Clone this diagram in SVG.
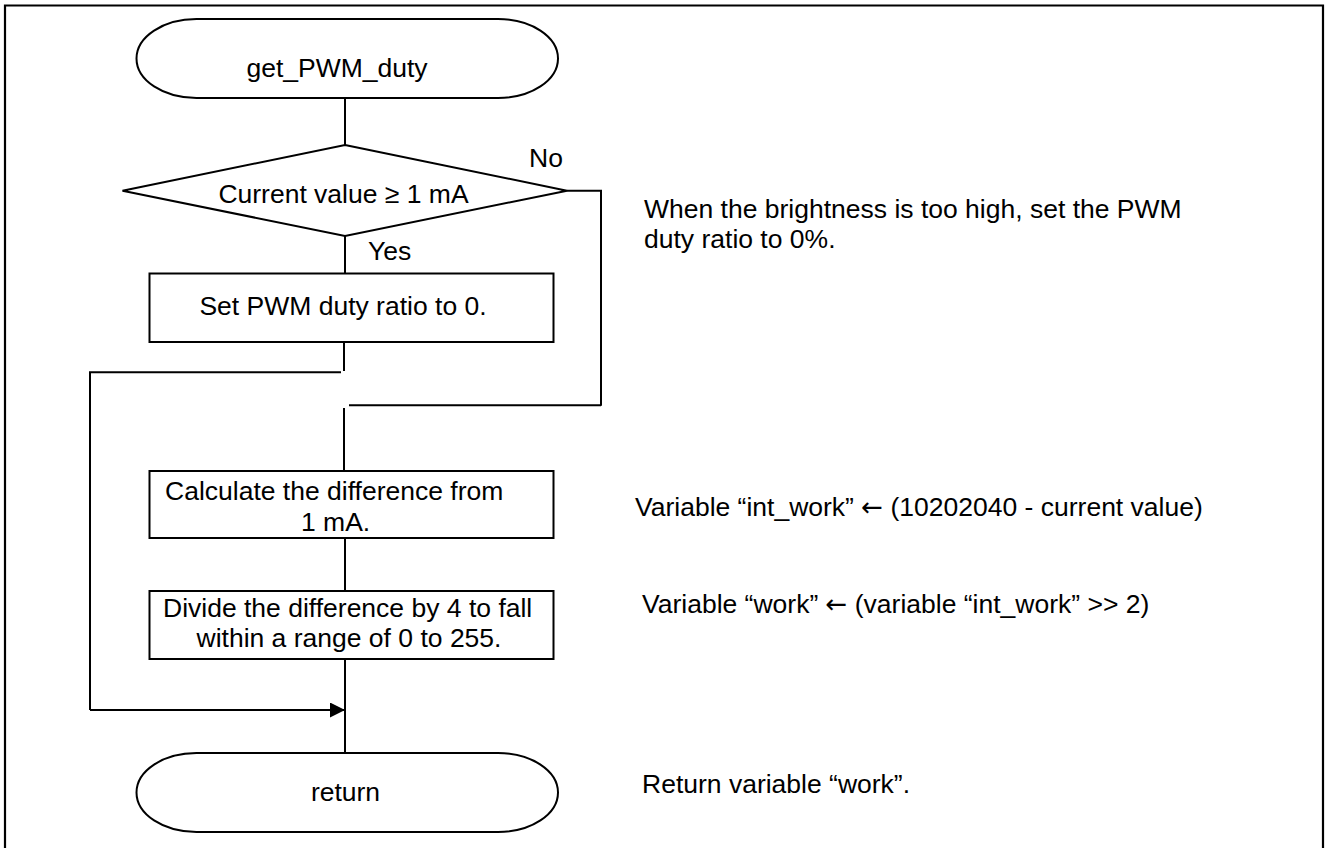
<svg xmlns="http://www.w3.org/2000/svg" width="1326" height="848" viewBox="0 0 1326 848">
<defs>
<style>
.shape{fill:#fff;stroke:#000;stroke-width:2}
.line{fill:none;stroke:#000;stroke-width:2}
text{font-family:"Liberation Sans",Arial,sans-serif;font-size:26.5px;fill:#000}
.c{text-anchor:middle}
.ar{font-family:"DejaVu Sans","Liberation Sans",sans-serif;font-size:26px}
</style>
<marker id="arr" markerUnits="userSpaceOnUse" markerWidth="15" markerHeight="15" viewBox="0 0 15 15" refX="15" refY="7.5" orient="auto">
<path d="M0,0 L15,7.5 L0,15 z" fill="#000"/>
</marker>
</defs>
<rect width="1326" height="848" fill="#fff"/>
<path d="M5,848 V5.5 H1323 V848" fill="none" stroke="#000" stroke-width="2.2"/>

<g id="connectors">
<path class="line" d="M345,98 V145"/>
<path class="line" d="M345,236 V273"/>
<path class="line" d="M567,190.7 H601 V405.7"/>
<path class="line" d="M601,405.3 H349"/>
<path class="line" d="M344,408 V471"/>
<path class="line" d="M344,342 V371"/>
<path class="line" d="M341,372.3 H90 V710"/>
<path class="line" d="M90,710 H345" marker-end="url(#arr)"/>
<path class="line" d="M345,538 V591"/>
<path class="line" d="M345,659 V753"/>
</g>

<g id="start">
<rect class="shape" x="136.5" y="19" width="421.5" height="79" rx="60" ry="39.5"/>
<text class="c" x="337" y="77">get_PWM_duty</text>
</g>

<g id="decision">
<polygon class="shape" points="345,145 567,190.7 345,236 122.5,190.7"/>
<text class="c" x="343.5" y="203">Current value ≥ 1 mA</text>
<text x="529" y="166.5">No</text>
<text x="368" y="260">Yes</text>
</g>

<g id="set-zero">
<rect class="shape" x="149.5" y="273.5" width="404" height="68.5"/>
<text class="c" x="343" y="315">Set PWM duty ratio to 0.</text>
</g>

<g id="calc-diff">
<rect class="shape" x="149.5" y="471" width="404" height="67"/>
<text x="165" y="500">Calculate the difference from</text>
<text x="301" y="531">1 mA.</text>
</g>

<g id="divide">
<rect class="shape" x="149.5" y="591" width="404" height="68"/>
<text x="163" y="617">Divide the difference by 4 to fall</text>
<text x="196.5" y="647">within a range of 0 to 255.</text>
</g>

<g id="return">
<rect class="shape" x="136.5" y="753" width="421.5" height="79" rx="60" ry="39.5"/>
<text class="c" x="345.5" y="801">return</text>
</g>

<g id="notes">
<text x="644" y="218">When the brightness is too high, set the PWM</text>
<text x="644" y="248">duty ratio to 0%.</text>
<text x="635" y="516">Variable “int_work” <tspan class="ar">←</tspan> (10202040 - current value)</text>
<text x="642" y="613">Variable “work” <tspan class="ar">←</tspan> (variable “int_work” &gt;&gt; 2)</text>
<text x="642" y="793">Return variable “work”.</text>
</g>
</svg>
